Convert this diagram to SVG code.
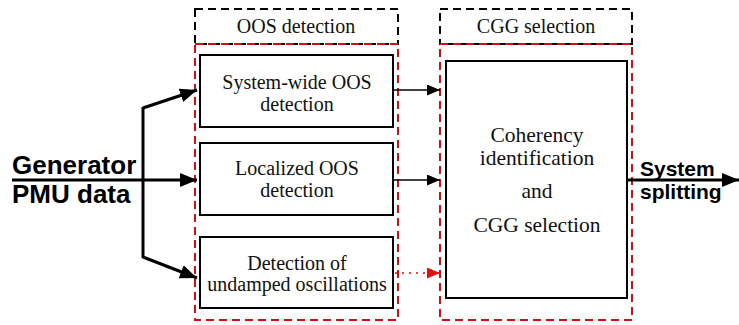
<svg xmlns="http://www.w3.org/2000/svg" width="739" height="325" viewBox="0 0 739 325">
  <style>
    .box { fill: #fff; stroke: #000; stroke-width: 2; }
    .hdr { fill: none; stroke: #000; stroke-width: 2; stroke-dasharray: 8 5; }
    .grp { fill: none; stroke: #d01010; stroke-width: 2; stroke-dasharray: 8 5; }
    .t { font-family: "Liberation Serif", "Times New Roman", serif; font-size: 20px; fill: #111; text-anchor: middle; }
    .tl { font-size: 21.5px; }
    .b { font-family: "Liberation Sans", Arial, sans-serif; font-weight: bold; fill: #000; }
    .thick { fill: none; stroke: #000; stroke-width: 3; }
    .thin { fill: none; stroke: #000; stroke-width: 1.6; }
    .dot { fill: none; stroke: #d01010; stroke-width: 1.6; stroke-dasharray: 2 5; }
  </style>
  <defs>
    <marker id="bigArrow" markerUnits="userSpaceOnUse" markerWidth="18" markerHeight="14" refX="17" refY="7" orient="auto">
      <path d="M0,0 L17,7 L0,14 Z" fill="#000"/>
    </marker>
    <marker id="smallArrow" markerUnits="userSpaceOnUse" markerWidth="14" markerHeight="12" refX="13" refY="5.5" orient="auto">
      <path d="M0,0 L13,5.5 L0,11 Z" fill="#000"/>
    </marker>
    <marker id="redArrow" markerUnits="userSpaceOnUse" markerWidth="14" markerHeight="12" refX="13" refY="5.5" orient="auto">
      <path d="M0,0 L13,5.5 L0,11 Z" fill="#e01010"/>
    </marker>
  </defs>

  <!-- group frames -->
  <g id="oos-group">
    <rect class="hdr" x="195" y="9" width="203" height="35"/>
    <text class="t" x="296" y="33">OOS detection</text>
    <rect class="grp" x="195" y="44" width="203" height="276"/>
  </g>
  <g id="cgg-group">
    <rect class="hdr" x="440" y="9" width="192" height="35"/>
    <text class="t" x="536" y="33">CGG selection</text>
    <rect class="grp" x="440" y="44" width="192" height="276"/>
  </g>

  <!-- detection blocks -->
  <g id="system-wide">
    <rect class="box" x="200" y="55" width="193" height="72"/>
    <text class="t" x="297" y="89">System-wide OOS</text>
    <text class="t" x="297" y="111">detection</text>
  </g>
  <g id="localized">
    <rect class="box" x="200" y="143" width="193" height="72"/>
    <text class="t" x="297" y="175">Localized OOS</text>
    <text class="t" x="297" y="197">detection</text>
  </g>
  <g id="undamped">
    <rect class="box" x="200" y="237" width="193" height="71"/>
    <text class="t" x="297" y="270">Detection of</text>
    <text class="t" x="297" y="291">undamped oscillations</text>
  </g>

  <!-- coherency block -->
  <g id="coherency">
    <rect class="box" x="446" y="61" width="181" height="237"/>
    <text class="t tl" x="537" y="142">Coherency</text>
    <text class="t tl" x="537" y="165">identification</text>
    <text class="t tl" x="537" y="198">and</text>
    <text class="t tl" x="537" y="232">CGG selection</text>
  </g>

  <!-- input / output labels -->
  <g id="input">
    <text class="b" x="12" y="174" font-size="26">Generator</text>
    <text class="b" x="12" y="203" font-size="26">PMU data</text>
  </g>
  <g id="output">
    <text class="b" x="640" y="176" font-size="21">System</text>
    <text class="b" x="640" y="199" font-size="21">splitting</text>
  </g>

  <!-- connectors -->
  <g id="connectors">
    <line class="thick" x1="12" y1="180" x2="197" y2="180" marker-end="url(#bigArrow)"/>
    <line class="thick" x1="143" y1="107" x2="143" y2="258"/>
    <polyline class="thick" points="143,108 197,90" marker-end="url(#bigArrow)"/>
    <polyline class="thick" points="143,257 197,278" marker-end="url(#bigArrow)"/>
    <line class="thin" x1="393" y1="90" x2="440" y2="90" marker-end="url(#smallArrow)"/>
    <line class="thin" x1="393" y1="180" x2="440" y2="180" marker-end="url(#smallArrow)"/>
    <line class="dot" x1="395" y1="273" x2="440" y2="273" marker-end="url(#redArrow)"/>
    <line class="thick" x1="627" y1="180" x2="739" y2="180" marker-end="url(#bigArrow)"/>
  </g>
</svg>
